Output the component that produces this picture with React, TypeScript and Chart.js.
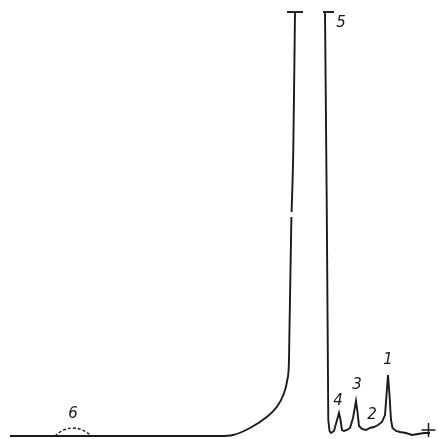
import React, { useEffect, useRef } from "react";
import { Chart, registerables } from "chart.js";

Chart.register(...registerables);

// Retention axis (x) and detector signal (y, 0 = baseline)
const baselineX = [10, 120, 200, 220, 233, 250, 266.7, 276.7, 283.3, 287.3, 289, 289.3, 291.4, null, 291.6, 293.3, 295];
const baselineY = [0, 0, 0, 0, 1, 8, 19, 29, 41, 56, 76, 96, 219, null, 224, 286, 424];

const peaksX = [325, 326.7, 328.3, 329.5, 331, 334, 337, 339, 340.5, 342, 344, 347, 350, 353, 356, 357.5, 359, 362, 366, 370, 374, 378, 382, 385, 386.5, 388, 389.5, 391, 392.5, 396, 400, 406, 412, 418, 424, 430];
const peaksY = [424, 236, 16, 5, 3, 5, 16, 23, 16, 6, 5, 6, 8, 18, 35, 24, 10, 7, 6, 8, 9, 11, 14, 21, 41, 61, 41, 16, 8, 5, 4, 3, 1, 2, 3, 3];

const peak6X = [55, 60, 65, 73, 81, 86, 92];
const peak6Y = [0, 4, 6.5, 8, 6.5, 4, 0];

const capLeftX = [287, 303];
const capRightX = [323, 334];
const capY = [424, 424];

const endMarkX = [428.5];
const endMarkY = [6];

const peakLabels = ["1", "2", "3", "4", "5", "6"];
const labelX = [388, 372, 357, 338, 341, 73];
const labelY = [76, 21, 51, 35, 413, 22];

const ink = "#1a1a1a";

function pts(xs: (number | null)[], ys: (number | null)[]) {
  return xs.map((x, i) => ({ x: x as number, y: ys[i] as number }));
}

const labelPlugin = {
  id: "peakLabels",
  afterDatasetsDraw(chart: any) {
    const { ctx, scales } = chart;
    ctx.save();
    ctx.fillStyle = ink;
    ctx.font = "italic 15px 'DejaVu Sans', sans-serif";
    ctx.textAlign = "center";
    ctx.textBaseline = "middle";
    peakLabels.forEach((t, i) => {
      ctx.fillText(t, scales.x.getPixelForValue(labelX[i]), scales.y.getPixelForValue(labelY[i]));
    });
    ctx.restore();
  },
};

export default function App() {
  const ref = useRef<HTMLCanvasElement>(null);
  useEffect(() => {
    if (!ref.current) return;
    const line = { showLine: true, pointRadius: 0, borderColor: ink, borderWidth: 1.9, fill: false };
    const chart = new Chart(ref.current, {
      type: "scatter",
      data: {
        datasets: [
          { ...line, data: pts(baselineX, baselineY), cubicInterpolationMode: "monotone", spanGaps: false } as any,
          { ...line, data: pts(peaksX, peaksY), tension: 0 } as any,
          { ...line, data: pts(peak6X, peak6Y), borderDash: [3, 2], tension: 0.4, borderWidth: 1.4 } as any,
          { ...line, data: pts(capLeftX, capY) } as any,
          { ...line, data: pts(capRightX, capY) } as any,
          {
            data: pts(endMarkX, endMarkY),
            pointStyle: "cross",
            pointRadius: 7,
            borderColor: ink,
            borderWidth: 1.5,
            showLine: false,
          } as any,
        ],
      },
      options: {
        animation: false,
        responsive: false,
        layout: { padding: 0, autoPadding: false },
        plugins: { legend: { display: false }, tooltip: { enabled: false } },
        scales: {
          x: { type: "linear", min: 0, max: 438, display: false },
          y: { type: "linear", min: -3, max: 436, display: false },
        },
      },
      plugins: [labelPlugin],
    });
    return () => chart.destroy();
  }, []);
  return (
    <div style={{ position: "fixed", left: 0, top: 0, width: 438, height: 439, background: "#fff" }}>
      <canvas ref={ref} width={438} height={439} />
    </div>
  );
}
